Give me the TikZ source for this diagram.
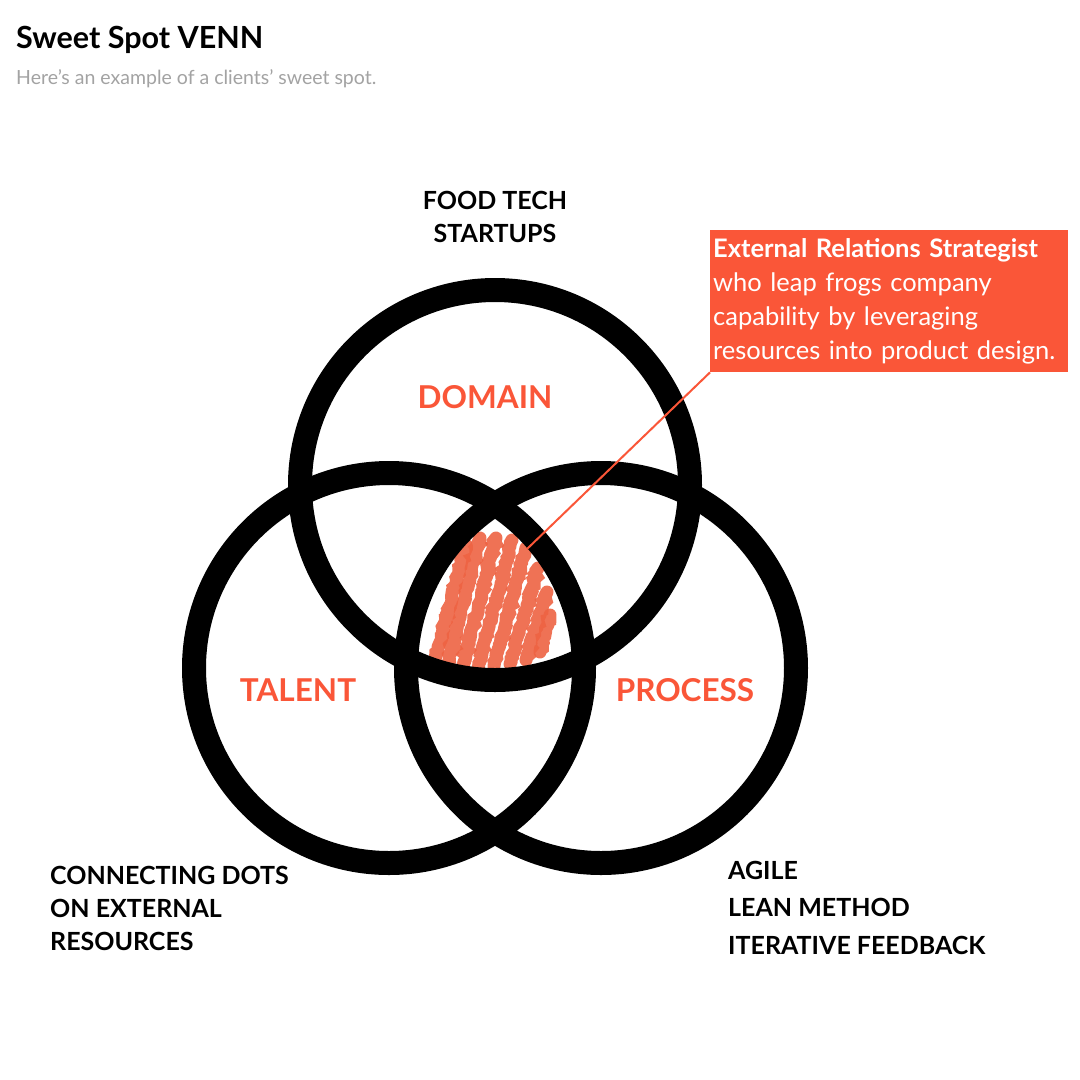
\documentclass[tikz,border=0pt]{standalone}
\usepackage{fontspec}
\setmainfont{Lato}
\usetikzlibrary{decorations.pathmorphing}
\definecolor{accent}{HTML}{FA5638}
\definecolor{scrib}{HTML}{EE6343}
\definecolor{subgray}{HTML}{A3A3A3}
\tikzset{
  ring/.style={circle, draw=black, line width=24pt, minimum size=390pt, inner sep=0pt},
  setname/.style={text=accent, font=\bfseries\fontsize{31.5}{36}\selectfont, inner sep=0pt},
  note/.style={text=black, font=\bfseries\fontsize{25}{33}\selectfont, inner sep=0pt, align=left},
  scribble/.style={scrib, line width=13pt, line cap=round, opacity=0.9,
    decorate, decoration={random steps, segment length=2.5pt, amplitude=1.3pt}},
}
\begin{document}
\begin{tikzpicture}[x=1pt,y=-1pt]
\useasboundingbox[fill=white] (0,0) rectangle (1080,1080);

% title
\node[anchor=base west, inner sep=0pt, font=\bfseries\fontsize{30.5}{34}\selectfont] (title) at (16,48) {Sweet Spot VENN};
\node[anchor=base west, inner sep=0pt, text=subgray, font=\fontsize{19.5}{23}\selectfont] (subtitle) at (16,84) {Here’s an example of a clients’ sweet spot.};

% scribble in the centre
\begin{scope}
  \clip (495,485) circle[radius=195pt];
  \clip (389,668) circle[radius=195pt];
  \clip (601,668) circle[radius=195pt];
  \draw[scribble] (432,670) -- (466,545);
  \draw[scribble] (446,670) -- (480,538);
  \draw[scribble] (462,668) -- (496,538);
  \draw[scribble] (478,668) -- (512,540);
  \draw[scribble] (494,666) -- (526,548);
  \draw[scribble] (510,664) -- (538,568);
  \draw[scribble] (526,660) -- (547,592);
  \draw[scribble] (540,652) -- (550,615);
\end{scope}

% circles
\node[ring] (domainc) at (495,485) {};
\node[ring] (talentc) at (389,668) {};
\node[ring] (processc) at (601,668) {};

% set labels
\node[setname] (domain) at (485,397) {DOMAIN};
\node[setname] (talent) at (298,690) {TALENT};
\node[setname] (process) at (685,690) {PROCESS};

% outer notes
\node[note, align=center, anchor=base] (food) at (495,242) {FOOD TECH\\STARTUPS};
\node[note, anchor=base west] (connect) at (50,950) {CONNECTING DOTS\\ON EXTERNAL\\RESOURCES};
\node[note, anchor=base west, font=\bfseries\fontsize{25}{37.5}\selectfont] (agile) at (728,954) {AGILE\\LEAN METHOD\\ITERATIVE FEEDBACK};

% callout
\node[fill=accent, text=white, anchor=north west, minimum width=358pt, minimum height=142pt,
      text width=352pt, inner xsep=3pt, inner ysep=0pt, align=left,
      font=\fontsize{25.5}{34}\selectfont] (callout) at (710,230)
  {\textbf{External Relations Strategist}\\who leap frogs company\\capability by leveraging\\resources into product design.};
\coordinate (spot) at (527,549);
\draw[accent, line width=2pt] (callout.south west) -- (spot);
\end{tikzpicture}
\end{document}
